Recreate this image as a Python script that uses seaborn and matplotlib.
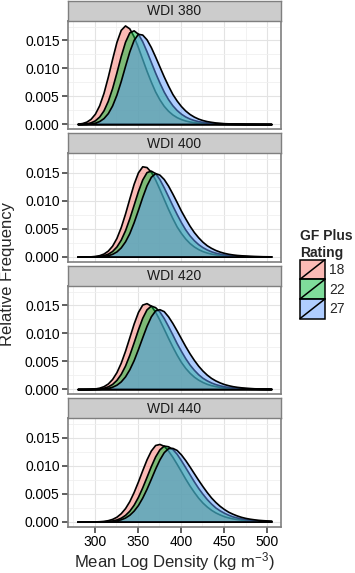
import matplotlib
matplotlib.use("Agg")
import matplotlib.pyplot as plt
from matplotlib.patches import Rectangle
from matplotlib.lines import Line2D
from matplotlib.legend_handler import HandlerBase
import numpy as np
import pandas as pd
import seaborn as sns

density_x = list(range(280, 510, 5))

panels = ["WDI 380", "WDI 400", "WDI 420", "WDI 440"]
ratings = ["18", "22", "27"]

# relative frequency, in units of 1e-4
wdi380_18 = [0.7, 1.8, 4.3, 9.4, 18.6, 33.8, 56.1, 85.0, 117.0, 147.3,
             169.0, 177.0, 171.7, 157.5, 138.1, 116.8, 95.6, 76.1, 58.4, 44.3,
             32.7, 23.9, 17.3, 12.4, 8.9, 6.4, 4.6, 3.4, 2.6, 1.8,
             1.4, 1.0, 0.7, 0.5, 0.4, 0.3, 0.3, 0.2, 0.2, 0.1,
             0.1, 0.1, 0.0, 0.0, 0.0, 0.0]
wdi380_22 = [0.2, 0.5, 1.3, 3.1, 6.7, 13.5, 24.6, 41.7, 64.6, 92.6,
             122.1, 147.7, 164.6, 168.2, 162.1, 148.6, 130.8, 111.5, 92.3, 74.5,
             58.2, 44.8, 33.8, 25.2, 18.6, 13.6, 9.9, 7.2, 5.3, 3.9,
             2.9, 2.2, 1.6, 1.2, 0.9, 0.7, 0.5, 0.4, 0.3, 0.2,
             0.2, 0.1, 0.1, 0.1, 0.0, 0.0]
wdi380_27 = [0.0, 0.2, 0.4, 1.1, 2.5, 5.4, 10.7, 19.6, 33.4, 52.8,
             77.1, 104.3, 130.5, 151.1, 162.0, 160.6, 152.1, 138.2, 121.2, 103.3,
             85.5, 69.1, 54.1, 42.3, 32.3, 24.3, 18.1, 13.4, 9.8, 7.2,
             5.3, 4.0, 2.9, 2.3, 1.6, 1.3, 0.9, 0.7, 0.6, 0.4,
             0.3, 0.3, 0.2, 0.2, 0.1, 0.1]

wdi400_18 = [0.0, 0.0, 0.2, 0.4, 1.1, 2.5, 5.4, 10.7, 19.6, 33.4,
             52.8, 77.1, 104.3, 130.5, 151.1, 162.0, 160.6, 152.1, 138.2, 121.2,
             103.3, 85.5, 69.1, 54.1, 42.3, 32.3, 24.3, 18.1, 13.4, 9.8,
             7.2, 5.3, 4.0, 2.9, 2.3, 1.6, 1.3, 0.9, 0.7, 0.6,
             0.4, 0.3, 0.3, 0.2, 0.2, 0.1]
wdi400_22 = [0.0, 0.0, 0.1, 0.2, 0.5, 1.1, 2.5, 5.2, 10.0, 18.1,
             30.3, 47.2, 68.7, 93.0, 117.5, 138.3, 151.6, 154.2, 149.7, 138.9,
             124.2, 108.2, 91.9, 76.3, 61.7, 48.7, 38.0, 29.3, 22.3, 16.9,
             12.7, 9.4, 7.0, 5.3, 3.9, 3.0, 2.4, 1.8, 1.3, 1.0,
             0.8, 0.6, 0.5, 0.4, 0.3, 0.2]
wdi400_27 = [0.0, 0.0, 0.0, 0.1, 0.2, 0.5, 1.1, 2.4, 4.9, 9.2,
             16.4, 27.2, 42.1, 61.5, 83.8, 107.0, 127.9, 143.1, 149.8, 147.0,
             139.2, 127.4, 113.1, 98.0, 82.4, 68.5, 55.4, 44.0, 34.6, 26.6,
             20.3, 15.6, 11.8, 8.9, 6.7, 5.0, 3.8, 2.9, 2.3, 1.8,
             1.3, 1.0, 0.8, 0.6, 0.5, 0.4]

wdi420_18 = [0.0, 0.1, 0.2, 0.5, 1.1, 2.5, 5.2, 10.0, 18.1, 30.3,
             47.2, 68.7, 93.0, 117.5, 138.3, 151.6, 154.2, 149.7, 138.9, 124.2,
             108.2, 91.9, 76.3, 61.7, 48.7, 38.0, 29.3, 22.3, 16.9, 12.7,
             9.4, 7.0, 5.3, 3.9, 3.0, 2.4, 1.8, 1.3, 1.0, 0.8,
             0.6, 0.5, 0.4, 0.3, 0.2, 0.2]
wdi420_22 = [0.0, 0.0, 0.1, 0.2, 0.5, 1.1, 2.4, 4.9, 9.2, 16.4,
             27.2, 42.1, 61.5, 83.8, 107.0, 127.9, 143.1, 149.8, 147.0, 139.2,
             127.4, 113.1, 98.0, 82.4, 68.5, 55.4, 44.0, 34.6, 26.6, 20.3,
             15.6, 11.8, 8.9, 6.7, 5.0, 3.8, 2.9, 2.3, 1.8, 1.3,
             1.0, 0.8, 0.6, 0.5, 0.4, 0.3]
wdi420_27 = [0.0, 0.0, 0.0, 0.1, 0.2, 0.4, 1.0, 2.1, 4.2, 7.8,
             13.7, 22.7, 35.5, 51.8, 71.7, 92.9, 113.5, 130.5, 141.2, 143.3,
             139.8, 130.6, 118.7, 105.2, 91.1, 77.1, 64.1, 52.4, 42.0, 33.2,
             25.9, 20.0, 15.5, 11.9, 9.0, 6.9, 5.2, 4.0, 3.1, 2.5,
             1.9, 1.4, 1.2, 0.9, 0.7, 0.6]

wdi440_18 = [0.0, 0.0, 0.0, 0.1, 0.3, 0.6, 1.2, 2.5, 4.8, 8.7,
             15.0, 24.1, 36.7, 53.0, 71.9, 92.2, 111.6, 127.5, 137.4, 139.3,
             136.0, 127.4, 116.3, 103.6, 90.4, 77.0, 64.5, 53.2, 42.8, 34.1,
             27.0, 21.1, 16.4, 12.7, 9.6, 7.4, 5.7, 4.4, 3.4, 2.6,
             2.1, 1.6, 1.3, 1.0, 0.8, 0.6]
wdi440_22 = [0.0, 0.0, 0.0, 0.0, 0.1, 0.2, 0.5, 1.0, 2.0, 3.8,
             6.9, 12.0, 19.5, 30.2, 44.3, 61.4, 80.3, 99.6, 116.9, 129.7,
             136.4, 135.1, 130.3, 121.7, 110.0, 97.5, 84.8, 72.2, 60.4, 49.9,
             40.4, 32.3, 25.3, 20.1, 15.8, 12.2, 9.3, 7.3, 5.6, 4.4,
             3.4, 2.6, 2.1, 1.7, 1.3, 1.0]
wdi440_27 = [0.0, 0.0, 0.0, 0.0, 0.0, 0.1, 0.2, 0.5, 1.1, 2.1,
             4.1, 7.2, 12.2, 19.6, 29.6, 43.0, 58.9, 76.8, 95.1, 111.6,
             124.5, 131.8, 132.2, 128.5, 120.5, 110.3, 98.8, 86.8, 74.9, 63.6,
             52.9, 43.2, 35.1, 28.2, 22.5, 17.6, 14.0, 10.9, 8.4, 6.5,
             5.1, 4.0, 3.1, 2.5, 2.0, 1.5]

curves = {
    ("WDI 380", "18"): wdi380_18, ("WDI 380", "22"): wdi380_22, ("WDI 380", "27"): wdi380_27,
    ("WDI 400", "18"): wdi400_18, ("WDI 400", "22"): wdi400_22, ("WDI 400", "27"): wdi400_27,
    ("WDI 420", "18"): wdi420_18, ("WDI 420", "22"): wdi420_22, ("WDI 420", "27"): wdi420_27,
    ("WDI 440", "18"): wdi440_18, ("WDI 440", "22"): wdi440_22, ("WDI 440", "27"): wdi440_27,
}

rows = []
for (panel, rating), vals in curves.items():
    for x, v in zip(density_x, vals):
        rows.append({"panel": panel, "rating": rating, "x": x, "density": v * 1e-4})
df = pd.DataFrame(rows)

sns.set_theme(style="white", context="paper")
plt.rcParams['font.family'] = ['Liberation Sans', 'DejaVu Sans']
plt.rcParams['mathtext.fontset'] = 'custom'
plt.rcParams['mathtext.rm'] = 'Liberation Sans'
plt.rcParams['mathtext.it'] = 'Liberation Sans:italic'
plt.rcParams['mathtext.bf'] = 'Liberation Sans:bold'

palette = dict(zip(ratings, ["#F8766D", "#00BA38", "#619CFF"]))
alpha = 0.5
border = "#7F7F7F"

W, H = 355, 573
fig = plt.figure(figsize=(W / 100, H / 100), dpi=100)


def px_axes(left, top, width, height):
    return fig.add_axes([left / W, 1 - (top + height) / H, width / W, height / H])


# shared scales with ggplot-style 5% expansion
xmin, xmax = df["x"].min(), df["x"].max()
xpad = 0.05 * (xmax - xmin)
ytop = df["density"].max()
ypad = 0.05 * ytop

panel_left, panel_w, panel_h, strip_h = 68, 213, 108.5, 20
for i, panel in enumerate(panels):
    top = 20.5 + i * 132.5
    ax = px_axes(panel_left, top, panel_w, panel_h)
    sub = df[df["panel"] == panel]
    for rating in ratings:
        d = sub[sub["rating"] == rating]
        ax.fill_between(d["x"], 0, d["density"],
                        facecolor=matplotlib.colors.to_rgba(palette[rating], alpha),
                        edgecolor="black", linewidth=1.2, zorder=3)
    ax.set_xlim(xmin - xpad, xmax + xpad)
    ax.set_ylim(-ypad, ytop + ypad)
    ax.set_xticks([300, 350, 400, 450, 500])
    ax.set_xticks([275, 325, 375, 425, 475], minor=True)
    ax.set_yticks([0, 0.005, 0.010, 0.015])
    ax.set_yticks([0.0025, 0.0075, 0.0125, 0.0175], minor=True)
    ax.set_yticklabels(["0.000", "0.005", "0.010", "0.015"])
    ax.grid(which="major", color="#E3E3E3", linewidth=0.8)
    ax.grid(which="minor", color="#F0F0F0", linewidth=0.6)
    ax.set_axisbelow(True)
    for s in ax.spines.values():
        s.set_color(border)
        s.set_linewidth(1.2)
    ax.tick_params(axis="y", which="major", length=4, width=1.1, color="#333333",
                   labelsize=10, labelcolor="black", pad=2, left=True)
    ax.tick_params(which="minor", length=0)
    if i == len(panels) - 1:
        ax.tick_params(axis="x", which="major", length=4, width=1.1, color="#333333",
                       labelsize=10, labelcolor="black", pad=2, bottom=True)
    else:
        ax.tick_params(axis="x", which="major", length=0, labelbottom=False)
    ax.set_xlabel("")
    ax.set_ylabel("")

    st = px_axes(panel_left, top - strip_h, panel_w, strip_h)
    st.set_facecolor("#CCCCCC")
    st.set_xticks([])
    st.set_yticks([])
    for s in st.spines.values():
        s.set_color(border)
        s.set_linewidth(1.0)
    st.text(0.5, 0.47, panel, ha="center", va="center", fontsize=10, color="#1A1A1A",
            transform=st.transAxes)

fig.text(174.5 / W, 1 - 561.5 / H, r"Mean Log Density (kg m$^{-3}$)",
         ha="center", va="center", fontsize=12)
fig.text(7.5 / W, 1 - 274 / H, "Relative Frequency", rotation=90,
         ha="center", va="center", fontsize=12)


class KeyHandler(HandlerBase):
    def create_artists(self, legend, orig_handle, xdescent, ydescent, width, height,
                       fontsize, trans):
        x0, y0 = -xdescent, -ydescent
        rect = Rectangle((x0, y0), width, height, facecolor=orig_handle.get_facecolor(),
                         edgecolor="black", linewidth=1.1, transform=trans)
        line = Line2D([x0, x0 + width], [y0, y0 + height], color="black",
                      linewidth=1.1, transform=trans)
        return [rect, line]


handles = [Rectangle((0, 0), 1, 1, facecolor=matplotlib.colors.to_rgba(palette[r], alpha))
           for r in ratings]
leg = fig.legend(handles, ratings, handler_map={Rectangle: KeyHandler()},
                 title="GF Plus\nRating", loc="center left",
                 bbox_to_anchor=(300 / W, 1 - 274 / H), frameon=False,
                 fontsize=10, title_fontsize=10, handlelength=1.8, handleheight=1.8,
                 labelspacing=0, handletextpad=0.3, borderpad=0, borderaxespad=0,
                 alignment="left")
leg.get_title().set_fontweight("bold")

fig.savefig("out.png", dpi=100)
